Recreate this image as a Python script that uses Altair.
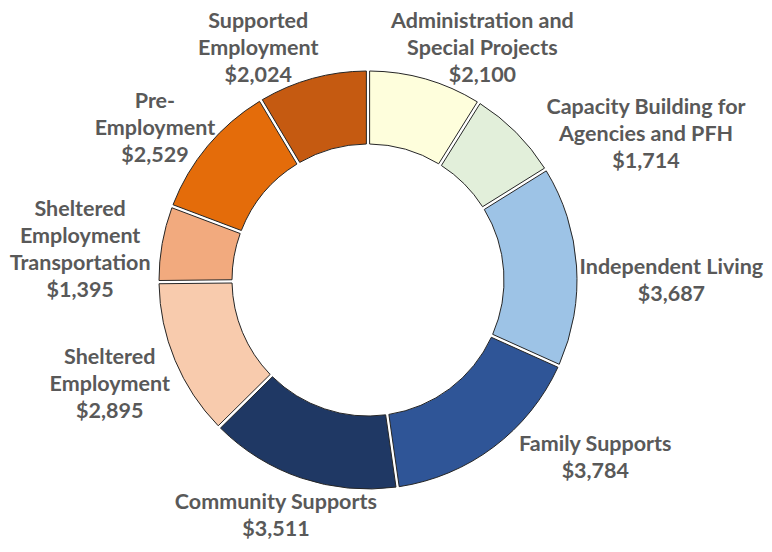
import altair as alt
import pandas as pd

CATEGORIES = [
    "Administration and Special Projects",
    "Capacity Building for Agencies and PFH",
    "Independent Living",
    "Family Supports",
    "Community Supports",
    "Sheltered Employment",
    "Sheltered Employment Transportation",
    "Pre-Employment",
    "Supported Employment",
]
VALUES = [2100, 1714, 3687, 3784, 3511, 2895, 1395, 2529, 2024]
LABELS = [
    "Administration and\nSpecial Projects",
    "Capacity Building for\nAgencies and PFH",
    "Independent Living",
    "Family Supports",
    "Community Supports",
    "Sheltered\nEmployment",
    "Sheltered\nEmployment\nTransportation",
    "Pre-\nEmployment",
    "Supported\nEmployment",
]
COLORS = ["#FEFEDC", "#E2EFDA", "#9DC3E6", "#2F5597", "#1F3864",
          "#F8CBAD", "#F2AA7E", "#E46C0A", "#C55A11"]

# layout: label nudges (dx, dy) from a ring of radius LABEL_R
LABEL_R = 270
LABEL_NUDGE = [(40, 29), (87, 46), (34, 20), (65, -37), (-6, -19),
               (-9, 1), (-22, 18), (-6, 22), (-38, 29)]
LINE_H = 27

CX, CY = 360, 272

df = pd.DataFrame({
    "idx": list(range(len(CATEGORIES))),
    "category": CATEGORIES,
    "value": VALUES,
    "label": LABELS,
})

base = alt.Chart(df)

arcs = base.mark_arc(radius=209, radius2=136, padAngle=0.013,
                     stroke="#262626", strokeWidth=1).encode(
    theta=alt.Theta("value:Q", stack=True),
    order=alt.Order("idx:Q"),
    color=alt.Color("category:N", scale=alt.Scale(domain=CATEGORIES, range=COLORS), legend=None),
    x=alt.value(CX), y=alt.value(CY),
)

layers = [arcs]
for i, (dx, dy) in enumerate(LABEL_NUDGE):
    n_lines = LABELS[i].count("\n") + 2
    t = base.transform_window(
        cum="sum(value)", sort=[alt.SortField("idx")],
        frame=[None, 0]
    ).transform_calculate(
        mid="datum.cum - datum.value / 2",
        txt="datum.label + '\\n' + format(datum.value, '$,')",
    ).transform_filter(
        alt.datum.idx == i
    ).mark_text(
        radius=LABEL_R, dx=dx, dy=dy - (n_lines - 1) * LINE_H / 2,
        lineBreak="\n", lineHeight=LINE_H,
        font="Lato", fontWeight="bold", fontSize=21.5, color="#595959",
        align="center", baseline="middle",
    ).encode(
        theta=alt.Theta("mid:Q", stack=None),
        text="txt:N",
        x=alt.value(CX), y=alt.value(CY),
    )
    layers.append(t)

chart = alt.layer(*layers).properties(
    width=756, height=536, padding=0, autosize="none"
).configure_view(stroke=None)

chart.save("out.html", embed_options={"renderer": "svg", "actions": False})
